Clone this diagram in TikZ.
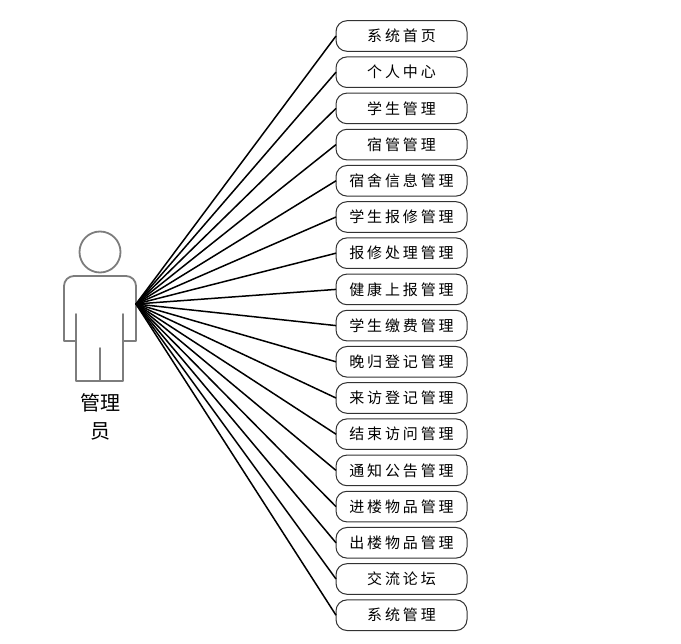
\documentclass[tikz,border=0pt]{standalone}
\usepackage{fontspec}
\usepackage{tikz}
\usetikzlibrary{positioning}
\newfontfamily\cjk[LetterSpace=19]{Noto Sans CJK SC}
\newfontfamily\cjkplain{Noto Sans CJK SC}
\definecolor{actorGray}{RGB}{125,125,125}
\definecolor{boxEdge}{RGB}{50,50,50}
\tikzset{
  usecase/.style={draw=boxEdge, line width=1pt, rectangle, rounded corners=11pt, fill=white, minimum width=131pt, minimum height=30.6pt, inner sep=0pt, outer sep=0pt, align=center, font=\fontsize{15}{18}\selectfont\cjk},
  link/.style={black, line width=1.5pt},
  actorline/.style={actorGray, line width=1.8pt, line join=round, line cap=round}
}
\begin{document}
\begin{tikzpicture}[x=1pt, y=-1pt, node distance=5.6pt]
    \useasboundingbox (0,0) rectangle (681,644);

    % actor
    \coordinate (HAND) at (136,304);
    \node[draw=actorGray, line width=1.8pt, circle, minimum size=41pt, inner sep=0pt] (HEAD) at (100,252) {};
    \draw[actorline] (76,341) -- (64,341) -- (64,286) arc[start angle=180, end angle=90, radius=10pt] -- (126,276) arc[start angle=90, end angle=0, radius=10pt] -- (136,341) -- (123,341);
    \draw[actorline] (76,314) -- (76,381) -- (123,381) -- (123,314);
    \draw[actorline] (100,348) -- (100,381);
    \node[align=center, font=\fontsize{20}{28}\selectfont\cjkplain] (ADMIN) at (100,417) {管理\\员};

    % use cases
    \node[usecase] (U1) at (401.5,36) {系统首页};
    \node[usecase, below=of U1] (U2) {个人中心};
    \node[usecase, below=of U2] (U3) {学生管理};
    \node[usecase, below=of U3] (U4) {宿管管理};
    \node[usecase, below=of U4] (U5) {宿舍信息管理};
    \node[usecase, below=of U5] (U6) {学生报修管理};
    \node[usecase, below=of U6] (U7) {报修处理管理};
    \node[usecase, below=of U7] (U8) {健康上报管理};
    \node[usecase, below=of U8] (U9) {学生缴费管理};
    \node[usecase, below=of U9] (U10) {晚归登记管理};
    \node[usecase, below=of U10] (U11) {来访登记管理};
    \node[usecase, below=of U11] (U12) {结束访问管理};
    \node[usecase, below=of U12] (U13) {通知公告管理};
    \node[usecase, below=of U13] (U14) {进楼物品管理};
    \node[usecase, below=of U14] (U15) {出楼物品管理};
    \node[usecase, below=of U15] (U16) {交流论坛};
    \node[usecase, below=of U16] (U17) {系统管理};

    \foreach \i in {1,...,17} {
      \draw[link] (HAND) -- (U\i.west);
    }
\end{tikzpicture}
\end{document}
